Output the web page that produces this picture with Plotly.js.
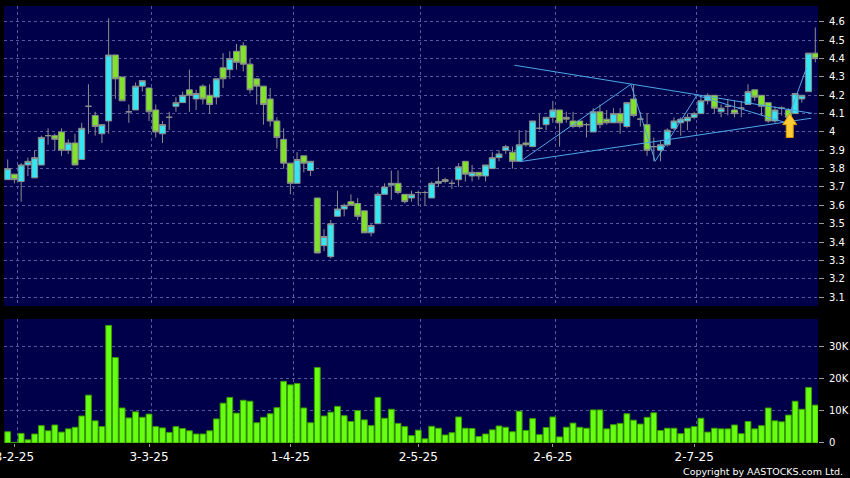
<!DOCTYPE html>
<html>
<head>
<meta charset="utf-8">
<script src="https://cdn.plot.ly/plotly-3.0.1.min.js"></script>
<style>
html,body{margin:0;padding:0;background:#000;}
#chart{width:850px;height:478px;}
</style>
</head>
<body>
<div id="chart"></div>
<script>
// ---- data (one entry per trading session, oldest first) ----
const openP = [
3.74,3.77,3.73,3.82,3.75,3.82,3.98,3.98,4.00,3.90,
3.94,3.85,4.14,4.09,3.99,4.06,4.42,4.30,4.11,4.12,
4.25,4.24,4.12,3.99,4.08,4.14,4.16,4.23,4.18,4.25,
4.20,4.19,4.35,4.34,4.44,4.47,4.37,4.29,4.25,4.18,
4.06,3.96,3.83,3.72,3.87,3.79,3.64,3.38,3.32,3.54,
3.58,3.62,3.61,3.57,3.45,3.50,3.66,3.71,3.72,3.66,
3.64,3.67,3.67,3.64,3.72,3.74,3.72,3.74,3.84,3.76,
3.78,3.76,3.80,3.86,3.90,3.89,3.84,3.94,3.92,4.02,
4.04,4.08,4.12,4.08,4.06,4.06,4.04,4.00,4.11,4.07,
4.05,4.10,4.03,4.18,4.07,4.04,3.92,3.90,3.93,4.02,
4.05,4.06,4.08,4.10,4.17,4.20,4.11,4.14,4.12,4.13,
4.15,4.23,4.20,4.16,4.06,4.13,4.12,4.10,4.18,4.22,
4.43];
const highP = [
3.85,3.77,3.83,3.86,3.90,3.98,4.02,3.99,4.02,3.96,
3.99,4.05,4.26,4.11,4.04,4.62,4.42,4.30,4.15,4.27,
4.28,4.24,4.15,4.06,4.11,4.19,4.22,4.34,4.23,4.26,
4.26,4.29,4.43,4.44,4.48,4.49,4.40,4.29,4.25,4.24,
4.08,4.02,3.83,3.89,3.87,3.84,3.64,3.47,3.52,3.68,
3.61,3.66,3.64,3.57,3.50,3.67,3.72,3.79,3.79,3.66,
3.68,3.68,3.68,3.73,3.81,3.75,3.74,3.83,3.84,3.82,
3.78,3.82,3.89,3.90,3.93,3.92,4.01,4.01,4.06,4.10,
4.08,4.17,4.12,4.11,4.11,4.06,4.05,4.13,4.15,4.12,
4.13,4.13,4.16,4.26,4.11,4.10,3.97,3.95,4.02,4.08,
4.08,4.10,4.11,4.20,4.21,4.20,4.15,4.18,4.17,4.17,
4.26,4.23,4.20,4.16,4.14,4.14,4.13,4.21,4.20,4.43,
4.57];
const lowP = [
3.74,3.72,3.62,3.76,3.75,3.82,3.93,3.90,3.87,3.88,
3.82,3.85,3.99,3.98,3.94,3.99,4.18,4.17,4.05,4.12,
4.22,4.06,3.97,3.94,4.01,4.11,4.16,4.11,4.12,4.15,
4.10,4.15,4.24,4.29,4.34,4.33,4.21,4.15,4.04,4.03,
3.91,3.80,3.66,3.72,3.78,3.76,3.34,3.35,3.31,3.54,
3.54,3.60,3.52,3.45,3.43,3.50,3.66,3.63,3.66,3.61,
3.62,3.60,3.60,3.64,3.70,3.72,3.69,3.70,3.73,3.73,
3.74,3.73,3.80,3.84,3.88,3.80,3.84,3.92,3.92,4.01,
4.01,4.05,3.92,4.05,4.02,4.02,3.97,4.00,4.02,4.04,
4.05,3.99,4.02,4.08,4.03,3.87,3.84,3.84,3.92,4.01,
3.98,4.01,4.07,4.10,4.15,4.10,4.08,4.09,4.08,4.08,
4.15,4.17,4.09,4.05,4.05,4.09,4.07,4.10,4.16,4.22,
4.38];
const closeP = [
3.80,3.74,3.82,3.84,3.86,3.97,3.98,3.96,3.90,3.94,
3.82,4.02,4.14,4.03,4.04,4.42,4.29,4.17,4.11,4.25,
4.28,4.11,4.00,4.04,4.08,4.16,4.20,4.20,4.21,4.18,
4.15,4.29,4.29,4.40,4.38,4.37,4.23,4.25,4.15,4.06,
3.97,3.83,3.72,3.85,3.83,3.84,3.34,3.43,3.50,3.58,
3.60,3.60,3.54,3.45,3.49,3.66,3.70,3.72,3.67,3.62,
3.66,3.67,3.67,3.72,3.73,3.73,3.72,3.81,3.77,3.78,
3.76,3.82,3.86,3.88,3.92,3.84,3.93,3.93,4.06,4.02,
4.08,4.12,4.05,4.07,4.03,4.03,4.04,4.11,4.04,4.05,
4.10,4.05,4.16,4.09,4.07,3.90,3.92,3.93,4.01,4.06,
4.07,4.08,4.10,4.17,4.20,4.13,4.13,4.14,4.10,4.13,
4.22,4.19,4.14,4.06,4.12,4.13,4.08,4.21,4.20,4.43,
4.40];
const volume = [
3500,200,3000,1000,2800,5400,3800,5600,3400,4400,
4900,8400,14900,6900,5100,36600,26600,10900,7800,9700,
8000,9000,5100,4700,3300,5100,4500,3800,2800,2800,
3800,7500,12400,14200,9300,13300,13000,6300,8000,9100,
11000,19200,18100,18500,10900,6300,23500,8400,9600,11400,
8500,6700,10100,7200,5400,14200,7700,10500,6100,5100,
2300,4000,1300,5200,4600,2500,3200,8100,4600,4500,
2000,2800,4100,5300,4900,3500,9900,3900,7600,2600,
4800,8100,1900,4900,6200,4900,4600,10300,10300,4400,
5700,6100,9100,7100,5900,8000,9400,3900,4600,4600,
2900,4600,5100,7700,3400,4600,4400,4400,5600,2900,
6700,4400,5400,10900,6900,6600,8700,13000,10500,17300,
11800];

// date labels and the session index they belong to
const tickIndex = [1, 21, 42, 61, 81, 102];
const tickText  = ['3-2-25','3-3-25','1-4-25','2-5-25','2-6-25','2-7-25'];

const priceTicks = [3.1,3.2,3.3,3.4,3.5,3.6,3.7,3.8,3.9,4.0,4.1,4.2,4.3,4.4,4.5,4.6];
const priceTickText = ['3.1','3.2','3.3','3.4','3.5','3.6','3.7','3.8','3.9','4','4.1','4.2','4.3','4.4','4.5','4.6'];
const volTicks = [0, 10000, 20000, 30000];
const volTickText = ['0','10K','20K','30K'];

// drawn pattern lines (session index, price)
const upperLineX = [75.3, 119.5];
const upperLineY = [4.364, 4.102];
const lowerLineX = [76.1, 119.4];
const lowerLineY = [3.838, 4.075];
const zigzagX = [76.1, 92.6, 96.2, 102.4, 115.7, 118.7];
const zigzagY = [3.838, 4.26, 3.84, 4.20, 4.05, 4.35];

// signal arrow
const arrowIndex = 116.2;
const arrowTip = 4.10;

// ---- build ----
const idx = openP.map((_, i) => i);
const gridPos = tickIndex.map(v => v + 0.4);

const LINE_BLUE = '#4ea6e6';
const GRID = '#58589e';
const NAVY = '#00004a';

const traces = [
  {
    type: 'candlestick', x: idx, open: openP, high: highP, low: lowP, close: closeP,
    xaxis: 'x', yaxis: 'y',
    increasing: {fillcolor: '#35e6f2', line: {color: '#8c8c8c', width: 1}},
    decreasing: {fillcolor: '#80e22a', line: {color: '#8c8c8c', width: 1}},
    whiskerwidth: 0, hoverinfo: 'skip', showlegend: false
  },
  {type: 'scatter', mode: 'lines', x: upperLineX, y: upperLineY, xaxis: 'x', yaxis: 'y',
   line: {color: LINE_BLUE, width: 1}, hoverinfo: 'skip', showlegend: false},
  {type: 'scatter', mode: 'lines', x: lowerLineX, y: lowerLineY, xaxis: 'x', yaxis: 'y',
   line: {color: LINE_BLUE, width: 1}, hoverinfo: 'skip', showlegend: false},
  {type: 'scatter', mode: 'lines', x: zigzagX, y: zigzagY, xaxis: 'x', yaxis: 'y',
   line: {color: LINE_BLUE, width: 1}, hoverinfo: 'skip', showlegend: false},
  {
    type: 'bar', x: idx, y: volume, xaxis: 'x2', yaxis: 'y2',
    marker: {color: '#66ff11', line: {color: '#3a9a00', width: 1}},
    hoverinfo: 'skip', showlegend: false
  }
];

// arrow polygon around arrowIndex / arrowTip
const hw = 1.04, sw = 0.52, hh = 0.06, tail = 0.13;
const ax = arrowIndex, ay = arrowTip;
const arrowPath = 'M ' + ax + ',' + ay +
  ' L ' + (ax + hw) + ',' + (ay - hh) +
  ' L ' + (ax + sw) + ',' + (ay - hh) +
  ' L ' + (ax + sw) + ',' + (ay - tail) +
  ' L ' + (ax - sw) + ',' + (ay - tail) +
  ' L ' + (ax - sw) + ',' + (ay - hh) +
  ' L ' + (ax - hw) + ',' + (ay - hh) + ' Z';

const xRange = [-0.55, 120.4];
const fontFam = '"DejaVu Sans", Verdana, sans-serif';

const layout = {
  width: 850, height: 478,
  margin: {l: 4, r: 32, t: 6, b: 35, pad: 0},
  paper_bgcolor: '#000000',
  plot_bgcolor: NAVY,
  showlegend: false,
  boxgap: 0.08, boxgroupgap: 0.04,
  bargap: 0.14,
  font: {family: fontFam, color: '#ffffff'},
  xaxis: {
    domain: [0, 1], anchor: 'y', range: xRange, type: 'linear',
    tickmode: 'array', tickvals: gridPos, showticklabels: false, ticks: '',
    showgrid: true, gridcolor: GRID, griddash: '3px,3px', gridwidth: 1,
    zeroline: false, showline: false, rangeslider: {visible: false}, fixedrange: true
  },
  yaxis: {
    domain: [0.3135, 1], anchor: 'x', side: 'right', range: [3.051, 4.687],
    tickmode: 'array', tickvals: priceTicks, ticktext: priceTickText,
    ticks: 'outside', ticklen: 5, tickcolor: '#9a9a9a', tickwidth: 1,
    ticklabelstandoff: 3,
    tickfont: {size: 10, color: '#ffffff', family: fontFam},
    showgrid: true, gridcolor: GRID, griddash: '3px,3px', gridwidth: 1,
    zeroline: false, showline: false, fixedrange: true
  },
  xaxis2: {
    domain: [0, 1], anchor: 'y2', range: xRange, type: 'linear',
    tickmode: 'array', tickvals: tickIndex, ticktext: tickText,
    ticks: 'outside', ticklen: 3, tickcolor: '#9a9a9a', tickwidth: 1,
    tickfont: {size: 12, color: '#ffffff', family: fontFam},
    ticklabeloverflow: 'allow',
    showgrid: false,
    minor: {tickmode: 'array', tickvals: gridPos, ticks: '', showgrid: true,
            gridcolor: GRID, griddash: '3px,3px', gridwidth: 1},
    zeroline: false, showline: false, fixedrange: true
  },
  yaxis2: {
    domain: [0, 0.2838], anchor: 'x2', side: 'right', range: [0, 38600],
    tickmode: 'array', tickvals: volTicks, ticktext: volTickText,
    ticks: 'outside', ticklen: 5, tickcolor: '#9a9a9a', tickwidth: 1,
    ticklabelstandoff: 3,
    tickfont: {size: 10, color: '#ffffff', family: fontFam},
    showgrid: true, gridcolor: GRID, griddash: '3px,3px', gridwidth: 1,
    zeroline: false, showline: false, fixedrange: true
  },
  shapes: [
    {type: 'path', xref: 'x', yref: 'y', path: arrowPath,
     fillcolor: '#ffcc33', line: {color: '#e09a00', width: 1}, layer: 'above'}
  ],
  annotations: [
    {text: 'Copyright by AASTOCKS.com Ltd.', xref: 'paper', yref: 'paper',
     x: 1.0332, y: -0.066, xanchor: 'right', yanchor: 'middle', showarrow: false,
     font: {size: 9.5, color: '#ffffff', family: fontFam}}
  ]
};

Plotly.newPlot('chart', traces, layout, {displayModeBar: false, staticPlot: true});
</script>
</body>
</html>
